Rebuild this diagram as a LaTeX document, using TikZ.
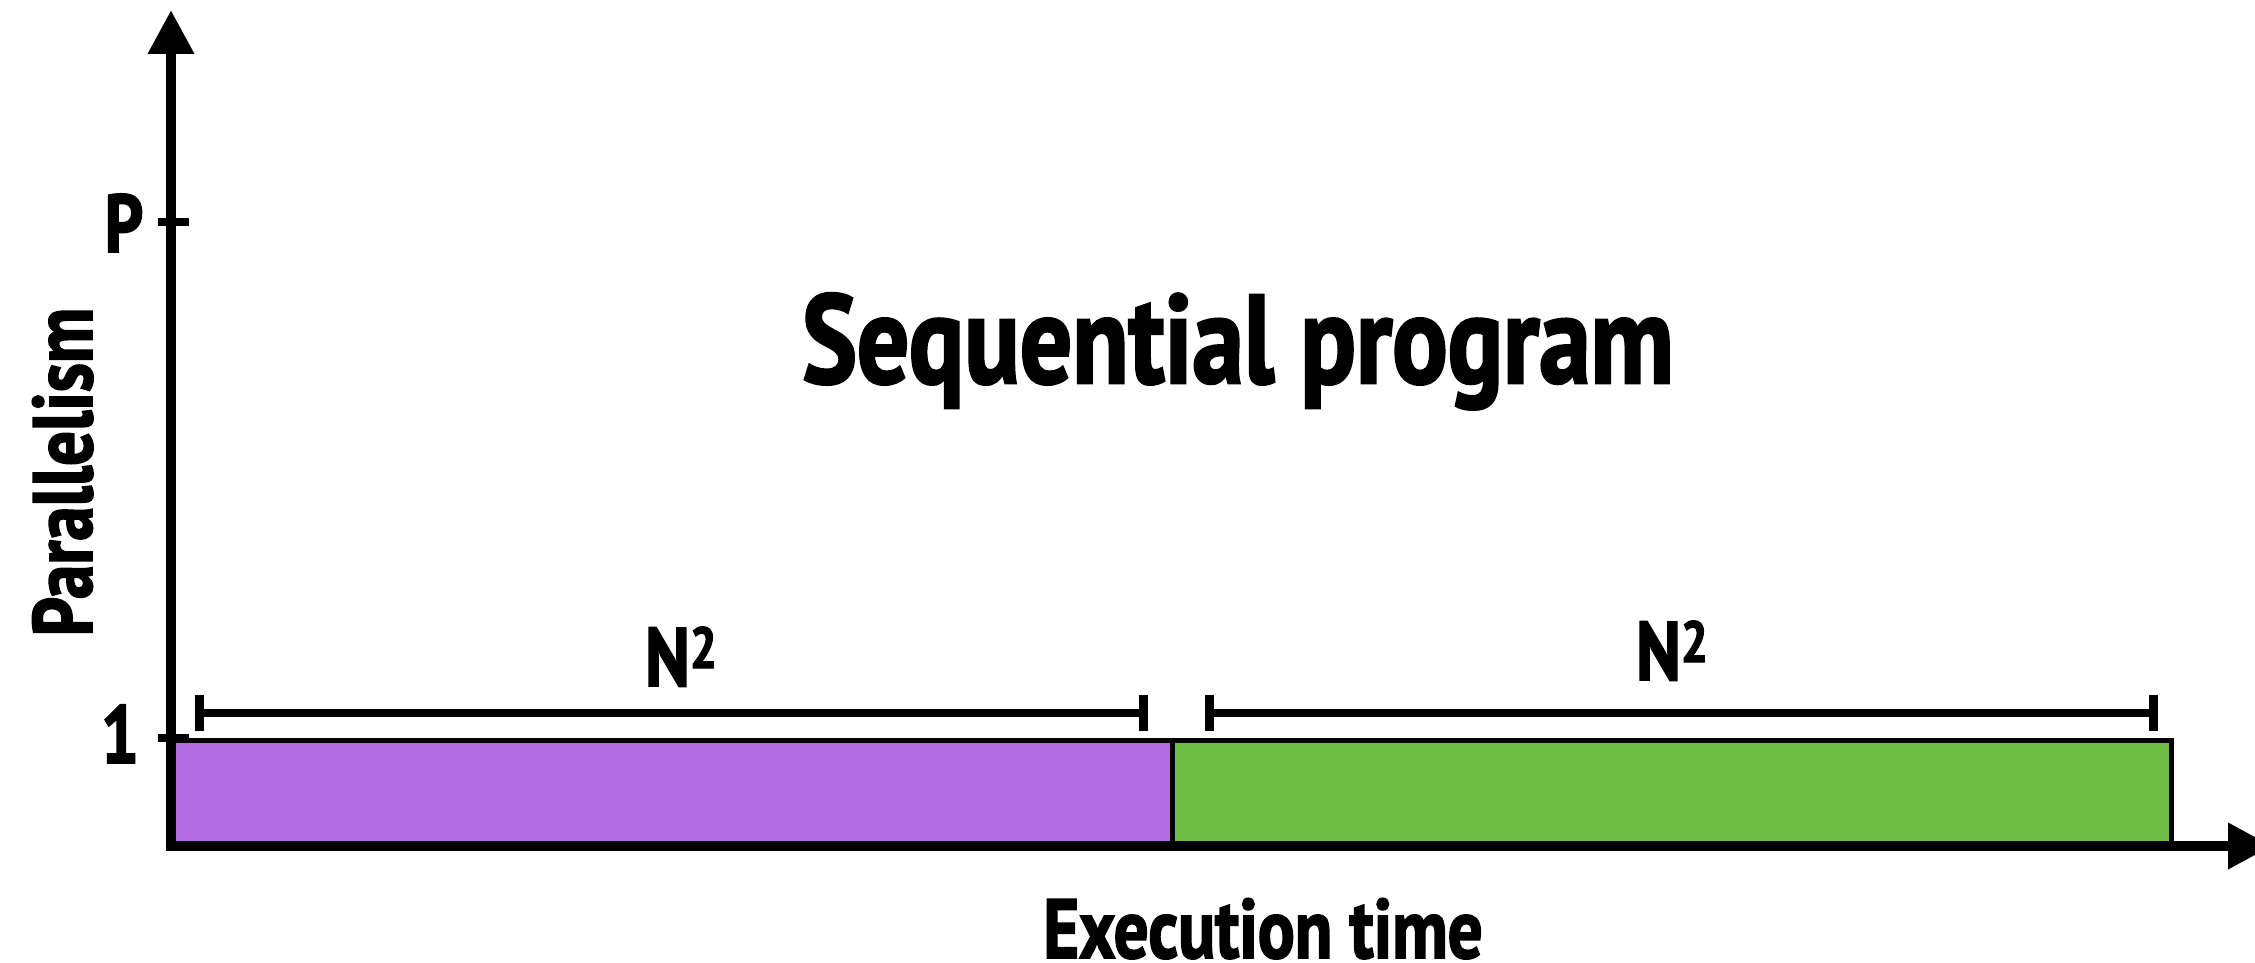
\documentclass[tikz,border=0pt]{standalone}
\usepackage{fontspec}
\usetikzlibrary{arrows.meta}
\newfontfamily\lbl{PT Sans}[FakeStretch=0.82,FakeBold=2]
\definecolor{barpurple}{RGB}{179,107,226}
\definecolor{bargreen}{RGB}{112,191,68}
\tikzset{
  axis/.style={line width=10pt, line join=miter,
    {Triangle[width=44pt,length=44pt]}-{Triangle[width=44pt,length=44pt]}},
  tick/.style={line width=8pt},
  barbox/.style={draw=black, line width=5pt},
  span/.style={line width=8pt, {Bar[width=36pt,line width=9pt]}-{Bar[width=36pt,line width=9pt]}},
  txt/.style={inner sep=0pt, anchor=base, font=\lbl\bfseries},
}
\begin{document}
\begin{tikzpicture}[x=1pt,y=-1pt]
\useasboundingbox (0,0) rectangle (2255,963);
% bars
\draw[barbox, fill=barpurple] (171,740) rectangle (1172,846);
\draw[barbox, fill=bargreen] (1172,740) rectangle (2171,846);
% axes
\coordinate (ytop) at (171,10);
\coordinate (origin) at (171,846);
\coordinate (xend) at (2272,846);
\draw[axis] (ytop) -- (origin) -- (xend);
% ticks
\coordinate (pl) at (158,222); \coordinate (pr) at (189,222);
\coordinate (ol) at (158,738); \coordinate (or) at (189,738);
\draw[tick] (pl) -- (pr);
\draw[tick] (ol) -- (or);
% spans
\coordinate (s1a) at (195,713); \coordinate (s1b) at (1148,713);
\coordinate (s2a) at (1205,713); \coordinate (s2b) at (2158,713);
\draw[span] (s1a) -- (s1b);
\draw[span] (s2a) -- (s2b);
% labels
\node[txt, font=\lbl\bfseries\fontsize{83}{83}\selectfont] (n1) at (681,686) {N{\fontsize{58}{58}\selectfont\raisebox{18pt}{2}}};
\node[txt, font=\lbl\bfseries\fontsize{83}{83}\selectfont] (n2) at (1672,680) {N{\fontsize{58}{58}\selectfont\raisebox{18pt}{2}}};
\node[txt, font=\lbl\bfseries\fontsize{126}{126}\selectfont] (title) at (1238,383) {Sequential program};
\node[txt, font=\lbl\bfseries\fontsize{84}{84}\selectfont] (xlab) at (1263,958) {Execution time};
\node[txt, font=\lbl\bfseries\fontsize{84}{84}\selectfont, rotate=90] (ylab) at (92,472) {Parallelism};
\node[txt, font=\lbl\bfseries\fontsize{82}{82}\selectfont] (plab) at (124,252) {P};
\node[txt, font=\lbl\bfseries\fontsize{82}{82}\selectfont] (onelab) at (120,763) {1};
\end{tikzpicture}
\end{document}
